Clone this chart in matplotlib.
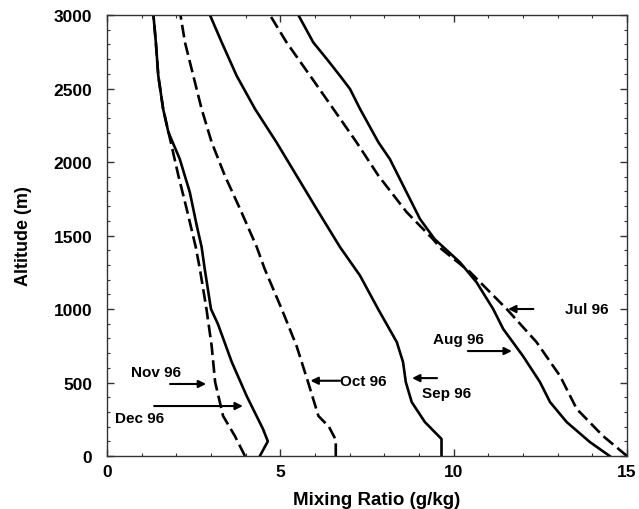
import matplotlib

matplotlib.use("Agg")
import matplotlib.pyplot as plt
from matplotlib.ticker import MultipleLocator

plt.rcParams["font.family"] = ["Liberation Sans", "DejaVu Sans"]
plt.rcParams["font.weight"] = "bold"

# Monthly mean mixing-ratio profiles (altitude in m, mixing ratio in g/kg)
jul_alt = [0, 136, 320, 544, 775, 1000, 1252, 1408, 1476, 1660, 1907, 2134, 2361, 2587, 2814, 3000]
jul_q = [15.0, 14.31, 13.55, 13.07, 12.39, 11.53, 10.47, 9.65, 9.4, 8.64, 7.83, 7.2, 6.53, 5.86, 5.18, 4.7]

aug_alt = [0, 95, 231, 367, 503, 680, 864, 1000, 1182, 1318, 1476, 1612, 2020, 2134, 2361, 2497, 2587, 2701, 2814, 3000]
aug_q = [14.5, 13.93, 13.26, 12.78, 12.49, 12.0, 11.43, 11.14, 10.66, 10.18, 9.45, 9.03, 8.16, 7.83, 7.3, 7.01, 6.72, 6.34, 5.95, 5.52]

sep_alt = [0, 116, 231, 367, 503, 639, 775, 1000, 1227, 1422, 1680, 1907, 2134, 2361, 2587, 2814, 3000]
sep_q = [9.65, 9.65, 9.17, 8.79, 8.62, 8.54, 8.36, 7.82, 7.3, 6.72, 6.05, 5.47, 4.89, 4.27, 3.74, 3.31, 2.97]

oct_alt = [0, 110, 200, 272, 503, 748, 1000, 1272, 1422, 1680, 1907, 2134, 2361, 2587, 2814, 3000]
oct_q = [6.6, 6.6, 6.4, 6.1, 5.8, 5.47, 5.04, 4.55, 4.32, 3.84, 3.4, 3.02, 2.73, 2.49, 2.25, 2.12]

nov_alt = [0, 136, 272, 503, 748, 1000, 1272, 1422, 1680, 1907, 2156, 2361, 2587, 2814, 3000]
nov_q = [3.98, 3.69, 3.35, 3.12, 3.02, 2.87, 2.68, 2.56, 2.3, 2.06, 1.82, 1.62, 1.48, 1.41, 1.34]

dec_alt = [0, 100, 184, 408, 639, 898, 1000, 1272, 1422, 1567, 1794, 2020, 2204, 2361, 2587, 2814, 3000]
dec_q = [4.41, 4.64, 4.5, 4.03, 3.6, 3.2, 3.0, 2.82, 2.73, 2.59, 2.39, 2.1, 1.77, 1.62, 1.48, 1.41, 1.34]

# label text, text position, arrow tail, arrow head, horizontal alignment
labels = [
    ("Jul 96", (13.2, 1000), (12.3, 1000), (11.57, 1000), "left"),
    ("Aug 96", (10.15, 796), (10.41, 714), (11.68, 714), "center"),
    ("Sep 96", (9.09, 429), (9.52, 530), (8.8, 530), "left"),
    ("Oct 96", (6.72, 512), (6.72, 512), (5.87, 512), "left"),
    ("Nov 96", (0.69, 571), (1.82, 490), (2.86, 490), "left"),
    ("Dec 96", (0.23, 259), (1.36, 340), (3.92, 340), "left"),
]

fig = plt.figure(figsize=(6.39, 5.10), dpi=100)
ax = fig.add_axes([0.1674, 0.1039, 0.8138, 0.8647])

dash = (0, (4.8, 2.0))
lw = 1.9
ax.plot(jul_q, jul_alt, color="black", lw=lw, linestyle=dash)
ax.plot(aug_q, aug_alt, color="black", lw=lw)
ax.plot(sep_q, sep_alt, color="black", lw=lw)
ax.plot(oct_q, oct_alt, color="black", lw=lw, linestyle=dash)
ax.plot(nov_q, nov_alt, color="black", lw=lw, linestyle=dash)
ax.plot(dec_q, dec_alt, color="black", lw=lw)

for text, txt_xy, tail, head, ha in labels:
    ax.text(txt_xy[0], txt_xy[1], text, ha=ha, va="center", fontsize=11, fontweight="bold")
    ax.annotate("", xy=head, xytext=tail,
                arrowprops=dict(arrowstyle="-|>", color="black", lw=1.5,
                                mutation_scale=11, shrinkA=0, shrinkB=0))

ax.set_xlim(0, 15)
ax.set_ylim(0, 3000)
ax.xaxis.set_major_locator(MultipleLocator(5))
ax.xaxis.set_minor_locator(MultipleLocator(1))
ax.yaxis.set_major_locator(MultipleLocator(500))
ax.yaxis.set_minor_locator(MultipleLocator(100))
ax.tick_params(which="both", direction="in", top=True, right=True,
               labelsize=12.5, color="#333333")
ax.tick_params(which="major", length=5, width=1)
ax.tick_params(which="minor", length=2.5, width=0.8)
ax.tick_params(axis="y", pad=10.5)
ax.tick_params(axis="x", pad=6)
for lab in ax.get_xticklabels() + ax.get_yticklabels():
    lab.set_fontweight("bold")
for sp in ax.spines.values():
    sp.set_linewidth(1)
    sp.set_color("#333333")

ax.set_xlabel("Mixing Ratio (g/kg)", fontsize=13.5, fontweight="bold")
ax.set_ylabel("Altitude (m)", fontsize=13, fontweight="bold")
ax.xaxis.set_label_coords(0.519, -0.08)
ax.yaxis.set_label_coords(-0.144, 0.5)

fig.savefig("out.png", dpi=100)
